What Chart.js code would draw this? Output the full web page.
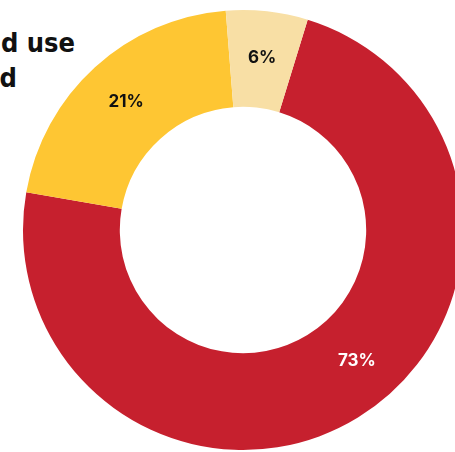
<!DOCTYPE html>
<html>
<head>
<meta charset="utf-8">
<script src="https://cdn.jsdelivr.net/npm/chart.js@4.4.1/dist/chart.umd.min.js"></script>
<style>
  html, body { margin: 0; padding: 0; background: #fff; overflow: hidden; width: 455px; height: 452px; }
  body { position: relative; }
  #chart { position: absolute; left: 0; top: 0; }
  .title {
    position: absolute;
    font-family: "DejaVu Sans Condensed", "DejaVu Sans", sans-serif;
    font-weight: 700;
    font-size: 27px;
    line-height: 30px;
    color: #111;
    white-space: nowrap;
    text-align: right;
  }
</style>
</head>
<body>
<div class="title" style="top:28px; right:380px;">Planned land use</div>
<div class="title" style="top:63px; right:438px;">compared</div>
<canvas id="chart" width="486" height="460"></canvas>
<script>
// Share of each category (percent)
const categories = ["Category A", "Category B", "Category C"];
const shares = [73, 21, 6];
const sliceColors = ["#c6202e", "#fec633", "#f8dfa5"];
const labelColors = ["#ffffff", "#111111", "#111111"];
// small angular nudge (degrees) for each label, as placed in the original
const labelShift = [-9.5, 0, 0];

// Draws the percentage labels inside each slice
const sliceLabels = {
  id: "sliceLabels",
  afterDatasetsDraw(chart) {
    const ctx = chart.ctx;
    const meta = chart.getDatasetMeta(0);
    ctx.save();
    ctx.font = "700 17px Inter, 'Noto Sans', sans-serif";
    ctx.textAlign = "center";
    ctx.textBaseline = "middle";
    meta.data.forEach((arc, i) => {
      const p = arc.getProps(["x", "y", "startAngle", "endAngle", "innerRadius", "outerRadius"], true);
      const mid = (p.startAngle + p.endAngle) / 2 + labelShift[i] * Math.PI / 180;
      const r = (p.innerRadius + p.outerRadius) / 2 + 2;
      ctx.fillStyle = labelColors[i];
      ctx.fillText(shares[i] + "%", p.x + Math.cos(mid) * r, p.y + Math.sin(mid) * r);
    });
    ctx.restore();
  }
};

new Chart(document.getElementById("chart"), {
  type: "doughnut",
  data: {
    labels: categories,
    datasets: [{
      data: shares,
      backgroundColor: sliceColors,
      borderWidth: 0
    }]
  },
  options: {
    responsive: false,
    animation: false,
    cutout: "56%",
    rotation: 17.1,
    layout: { padding: { left: 23, right: 23, top: 10, bottom: 10 } },
    plugins: {
      legend: { display: false },
      tooltip: { enabled: false }
    }
  },
  plugins: [sliceLabels]
});
</script>
</body>
</html>
